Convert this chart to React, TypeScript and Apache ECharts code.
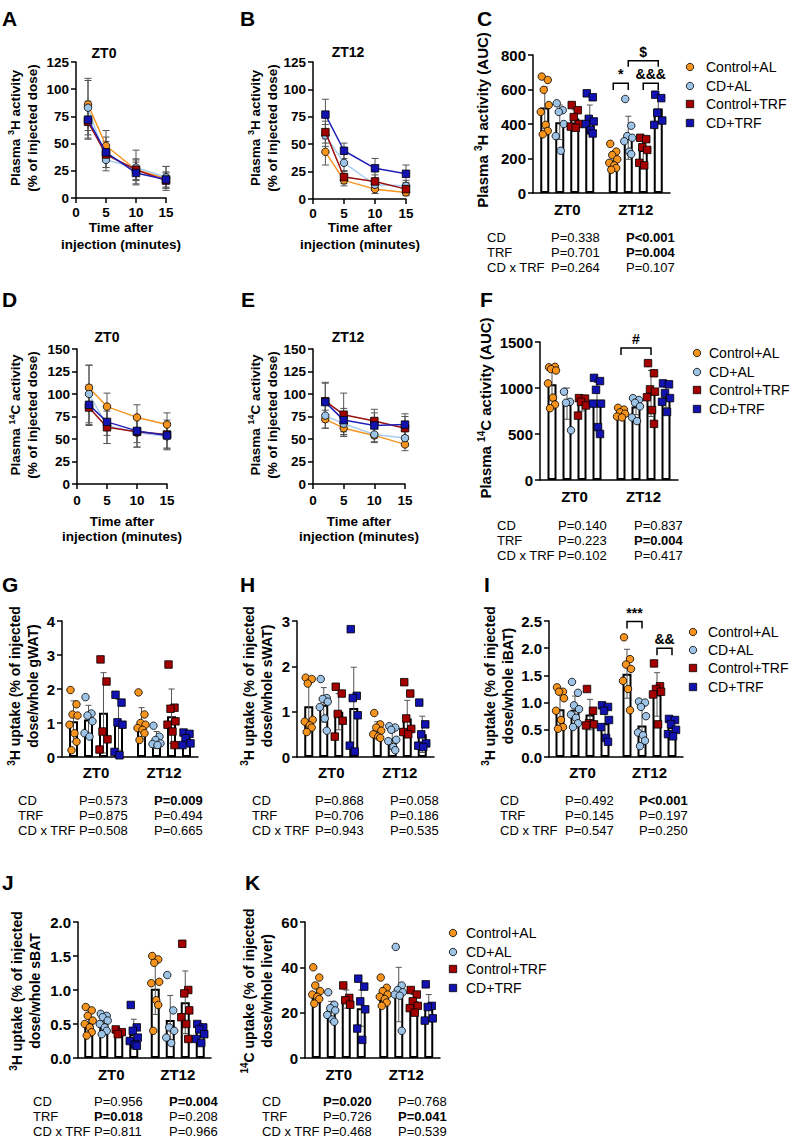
import React, { useEffect, useRef } from "react";
import * as echarts from "echarts";

// ---------- shared categories ----------
const GROUPS = ["Control+AL", "CD+AL", "Control+TRF", "CD+TRF"];
const PHASES = ["ZT0", "ZT12"];
const TIMES = [2, 5, 10, 15];
const P_ROWS = ["CD", "TRF", "CD x TRF"];

// ---------- line panels (mean / SD per group, at TIMES) ----------
const A_MEAN = [[86, 48, 26, 18], [83, 35, 28, 19], [70, 40, 26, 16], [72, 42, 23, 17]];
const A_SD = [[24, 14, 10, 11], [25, 10, 16, 10], [16, 12, 9, 7], [17, 14, 10, 7]];
const B_MEAN = [[43, 17, 9, 6], [58, 33, 13, 12], [61, 20, 16, 9], [77, 44, 28, 23]];
const B_SD = [[12, 5, 4, 3], [10, 8, 5, 5], [10, 6, 6, 5], [14, 7, 9, 8]];
const D_MEAN = [[107, 86, 74, 66], [100, 65, 57, 53], [85, 63, 58, 55], [88, 69, 59, 54]];
const D_SD = [[25, 15, 14, 13], [32, 20, 16, 15], [20, 18, 17, 16], [22, 15, 13, 14]];
const E_MEAN = [[72, 62, 54, 44], [76, 67, 55, 51], [92, 77, 70, 62], [91, 71, 65, 66]];
const E_SD = [[10, 9, 8, 7], [14, 12, 8, 9], [20, 24, 13, 13], [22, 13, 14, 12]];

// ---------- bar panels: per group [ZT0, ZT12] ----------
const C_MEAN = [[495, 190], [410, 320], [432, 250], [425, 490]];
const C_SD = [[120, 50], [100, 125], [50, 70], [85, 75]];
const C_PTS = [
  [[675, 655, 598, 510, 470, 395, 360, 340], [285, 240, 220, 195, 175, 160, 145, 135]],
  [[520, 480, 470, 400, 330, 245], [545, 390, 330, 320, 300, 240, 225]],
  [[510, 480, 440, 400, 385, 378], [320, 312, 265, 250, 175, 160]],
  [[578, 555, 430, 415, 400, 365, 345], [570, 550, 465, 420, 395]],
];
const F_MEAN = [[1040, 720], [830, 800], [830, 940], [830, 900]];
const F_SD = [[180, 40], [170, 90], [80, 250], [230, 110]];
const F_PTS = [
  [[1225, 1230, 1205, 1190, 1050, 895, 820, 780], [785, 765, 735, 720, 690, 680]],
  [[960, 850, 840, 540], [890, 870, 840, 800, 680, 640]],
  [[890, 885, 850, 810, 700], [1270, 1160, 985, 960, 900, 760, 610]],
  [[1110, 1075, 980, 830, 830, 575, 500], [1050, 1040, 945, 890, 850, 740]],
];
const G_MEAN = [[1.05, 1.0], [1.1, 0.5], [1.3, 1.2], [0.95, 0.55]];
const G_SD = [[0.6, 0.45], [0.42, 0.25], [1.18, 0.8], [0.75, 0.17]];
const G_PTS = [
  [[1.97, 1.55, 1.25, 1.22, 0.95, 0.7, 0.45, 0.2], [1.9, 1.25, 1.0, 0.95, 0.85, 0.8, 0.7, 0.5]],
  [[1.76, 1.28, 1.22, 1.05, 0.7, 0.6], [0.92, 0.6, 0.5, 0.4, 0.38, 0.35]],
  [[2.87, 2.22, 0.75, 0.52, 0.22], [2.72, 1.45, 1.42, 1.05, 0.95, 0.75, 0.35]],
  [[1.83, 1.6, 1.02, 0.95, 0.15, 0.05], [0.72, 0.68, 0.55, 0.4, 0.35]],
];
const H_MEAN = [[1.12, 0.6], [1.15, 0.4], [1.0, 0.85], [1.08, 0.5]];
const H_SD = [[0.5, 0.18], [0.38, 0.14], [0.4, 0.4], [0.9, 0.4]];
const H_PTS = [
  [[1.75, 1.72, 1.62, 0.82, 0.78, 0.7, 0.65, 0.55], [0.97, 0.72, 0.65, 0.58, 0.5, 0.45, 0.42]],
  [[1.72, 1.3, 1.28, 1.22, 1.1, 0.85, 0.58], [0.68, 0.65, 0.6, 0.38, 0.35, 0.22, 0.15]],
  [[1.55, 1.4, 0.95, 0.8, 0.45], [1.65, 1.4, 0.85, 0.62, 0.55, 0.5]],
  [[2.82, 1.35, 1.3, 0.92, 0.25, 0.12], [1.2, 0.72, 0.5, 0.3, 0.25, 0.22]],
];
const I_MEAN = [[0.88, 1.53], [0.87, 0.58], [0.78, 1.15], [0.62, 0.55]];
const I_SD = [[0.3, 0.45], [0.25, 0.35], [0.28, 0.4], [0.25, 0.12]];
const I_PTS = [
  [[1.28, 1.2, 1.2, 1.08, 0.85, 0.68, 0.55, 0.52], [2.2, 1.8, 1.7, 1.62, 1.4, 1.25, 0.86]],
  [[1.38, 1.18, 0.95, 0.88, 0.78, 0.72, 0.62, 0.55], [1.02, 1.0, 0.92, 0.75, 0.45, 0.4, 0.3, 0.2]],
  [[1.25, 0.85, 0.62, 0.6, 0.58], [1.72, 1.3, 1.25, 1.2, 1.15, 0.6]],
  [[0.95, 0.92, 0.85, 0.68, 0.55, 0.35, 0.28], [0.7, 0.68, 0.6, 0.5, 0.42, 0.38]],
];
const J_MEAN = [[0.52, 1.02], [0.52, 0.56], [0.4, 0.82], [0.35, 0.4]];
const J_SD = [[0.15, 0.38], [0.1, 0.36], [0.03, 0.46], [0.22, 0.1]];
const J_PTS = [
  [[0.75, 0.7, 0.62, 0.55, 0.5, 0.45, 0.38, 0.33], [1.5, 1.45, 1.4, 1.12, 1.1, 0.85, 0.78, 0.4]],
  [[0.65, 0.62, 0.6, 0.55, 0.5, 0.45, 0.4, 0.35], [1.22, 0.7, 0.45, 0.4, 0.3, 0.22]],
  [[0.42, 0.38, 0.35], [1.68, 1.0, 0.95, 0.7, 0.6, 0.5, 0.28]],
  [[0.78, 0.45, 0.4, 0.3, 0.25, 0.2, 0.18], [0.5, 0.45, 0.42, 0.35, 0.28, 0.22]],
];
const K_MEAN = [[29, 28], [21, 28], [26, 25], [22, 23]];
const K_SD = [[4, 3], [4, 12], [4, 3], [8, 5]];
const K_PTS = [
  [[40, 35.5, 32, 29.5, 28, 27, 26, 24], [35.5, 31, 29.5, 28, 27, 26, 24.5, 23]],
  [[29, 23.5, 22, 21, 19, 17, 16], [49, 32, 30, 29, 28, 27.5, 12]],
  [[32, 26.5, 25.5, 23.5], [30, 28, 25, 23, 22, 20]],
  [[35, 31.5, 25, 21.5, 13, 8], [32.5, 23, 22.5, 17.5, 16.5]],
];

// brackets: [phase, fromGroup, toGroup, topValue, legValue, label]
const C_BRACKETS = [[1, 0, 1, 636, 597, "*"], [1, 2, 3, 636, 597, "&&&"], [1, 1, 3, 767, 732, "$"]];
const F_BRACKETS = [[1, 0, 2, 1435, 1359, "#"]];
const I_BRACKETS = [[1, 0, 1, 2.49, 2.36, "***"], [1, 2, 3, 2.0, 1.87, "&&"]];

// p-value tables: rows CD / TRF / CD x TRF, columns ZT0 / ZT12
const C_P = [["P=0.338", "P<0.001"], ["P=0.701", "P=0.004"], ["P=0.264", "P=0.107"]];
const C_PB = [[0, 1], [0, 1], [0, 0]];
const F_P = [["P=0.140", "P=0.837"], ["P=0.223", "P=0.004"], ["P=0.102", "P=0.417"]];
const F_PB = [[0, 0], [0, 1], [0, 0]];
const G_P = [["P=0.573", "P=0.009"], ["P=0.875", "P=0.494"], ["P=0.508", "P=0.665"]];
const G_PB = [[0, 1], [0, 0], [0, 0]];
const H_P = [["P=0.868", "P=0.058"], ["P=0.706", "P=0.186"], ["P=0.943", "P=0.535"]];
const H_PB = [[0, 0], [0, 0], [0, 0]];
const I_P = [["P=0.492", "P<0.001"], ["P=0.145", "P=0.197"], ["P=0.547", "P=0.250"]];
const I_PB = [[0, 1], [0, 0], [0, 0]];
const J_P = [["P=0.956", "P=0.004"], ["P=0.018", "P=0.208"], ["P=0.811", "P=0.966"]];
const J_PB = [[0, 1], [1, 0], [0, 0]];
const K_P = [["P=0.020", "P=0.768"], ["P=0.726", "P=0.041"], ["P=0.468", "P=0.539"]];
const K_PB = [[1, 0], [0, 1], [0, 0]];

// ---------- styles ----------
const FONT = "'Liberation Sans', Arial, Helvetica, sans-serif";
const COLORS = ["#F7941D", "#9DC3E6", "#A50000", "#1212B0"];
const LINE_COLORS = ["#F7941D", "#A9CDEE", "#9B1010", "#1F1FB8"];
const SYMBOLS = ["circle", "circle", "rect", "rect"];
const BAR_W = 9;
const BAR_STEP = 15;
const JITTER = [-3, 3, -1, 4, -4, 1, 3, -2];
const SUP = { s: { fontSize: 9, fontWeight: "bold", fontFamily: FONT, verticalAlign: "top", lineHeight: 8, fill: "#000" } };
const SUP_L = { s: { fontSize: 10, fontWeight: "bold", fontFamily: FONT, verticalAlign: "top", lineHeight: 9, fill: "#000" } };

function txt(x: number, y: number, text: string, o: any = {}) {
  return {
    type: "text",
    x,
    y,
    silent: true,
    rotation: o.rotation || 0,
    style: {
      text,
      fill: "#000",
      fontFamily: FONT,
      fontSize: o.size || 13,
      fontWeight: o.bold ? "bold" : "normal",
      align: o.align || "left",
      textAlign: o.align || "left",
      verticalAlign: o.va || "middle",
      textVerticalAlign: o.va || "middle",
      lineHeight: o.lh || Math.round((o.size || 13) * 1.25),
      rich: o.rich,
    },
  };
}

function axisStyle(size: number, margin: number) {
  return {
    axisLine: { show: true, onZero: false, lineStyle: { color: "#000", width: 1.5 } },
    axisTick: { show: true, length: 5, lineStyle: { color: "#000", width: 1.5 } },
    axisLabel: { show: true, color: "#000", fontFamily: FONT, fontWeight: "bold", fontSize: size, margin },
    splitLine: { show: false },
  };
}

function buildOption() {
  const grid: any[] = [];
  const xAxis: any[] = [];
  const yAxis: any[] = [];
  const series: any[] = [];
  const graphic: any[] = [];

  const addLine = (L: any, means: number[][], sds: number[][]) => {
    const gi = grid.length;
    grid.push({ left: L.left, top: L.top, width: L.width, height: L.height });
    const xi = xAxis.length;
    xAxis.push({ type: "value", gridIndex: gi, min: 0, max: 15, interval: 5, ...axisStyle(13.5, L.xMargin) });
    const yi = yAxis.length;
    yAxis.push({ type: "value", gridIndex: gi, min: 0, max: L.yMax, interval: 25, ...axisStyle(13.5, 7) });
    const err: number[][] = [];
    means.forEach((row, k) => row.forEach((m, i) => err.push([TIMES[i], m, sds[k][i]])));
    series.push({
      type: "custom",
      xAxisIndex: xi,
      yAxisIndex: yi,
      z: 2,
      silent: true,
      data: err,
      renderItem: (_p: any, api: any) => {
        const x = api.value(0), m = api.value(1), s = api.value(2);
        const t = api.coord([x, m + s]);
        const b = api.coord([x, m - s]);
        const st = { stroke: "#555", lineWidth: 1 };
        return {
          type: "group",
          children: [
            { type: "line", shape: { x1: t[0], y1: t[1], x2: b[0], y2: b[1] }, style: st },
            { type: "line", shape: { x1: t[0] - 3.5, y1: t[1], x2: t[0] + 3.5, y2: t[1] }, style: st },
            { type: "line", shape: { x1: b[0] - 3.5, y1: b[1], x2: b[0] + 3.5, y2: b[1] }, style: st },
          ],
        };
      },
    });
    GROUPS.forEach((g, k) => {
      series.push({
        type: "line",
        name: g,
        xAxisIndex: xi,
        yAxisIndex: yi,
        z: 3 + k * 0.1,
        data: TIMES.map((t, i) => [t, means[k][i]]),
        symbol: SYMBOLS[k],
        symbolSize: 7.5,
        showAllSymbol: true,
        lineStyle: { color: LINE_COLORS[k], width: 1.5 },
        itemStyle: { color: COLORS[k], borderColor: "#000", borderWidth: 0.8 },
      });
    });
    graphic.push(txt(L.title[0], L.title[1], L.title[2], { bold: true, align: "center", size: 14 }));
    graphic.push(txt(L.yName[0], L.yName[1], L.yNameText, { bold: true, align: "center", rotation: Math.PI / 2, lh: 17, size: 13.5, rich: SUP }));
    graphic.push(txt(L.xName[0], L.xName[1], "Time after\ninjection (minutes)", { bold: true, align: "center", lh: L.xName[2], size: 13.5 }));
    graphic.push(txt(L.letter[0], L.letter[1], L.letter[2], { bold: true, size: 21, va: "top" }));
  };

  const addBar = (L: any, means: number[][], sds: number[][], pts: number[][][], P: string[][], PB: number[][], brackets: any[] | null) => {
    const gi = grid.length;
    grid.push({ left: L.left, top: L.top, width: L.width, height: L.height });
    const xi = xAxis.length;
    const xs = axisStyle(15, L.catMargin);
    xAxis.push({ type: "category", gridIndex: gi, data: PHASES, ...xs, axisTick: { show: false } });
    const yi = yAxis.length;
    const ys = axisStyle(15, 7);
    yAxis.push({
      type: "value",
      gridIndex: gi,
      min: 0,
      max: L.yMax,
      interval: L.yInt,
      ...ys,
      axisLabel: { ...ys.axisLabel, formatter: (v: number) => v.toFixed(L.dec) },
    });
    GROUPS.forEach((g, k) => {
      series.push({
        type: "bar",
        name: g,
        xAxisIndex: xi,
        yAxisIndex: yi,
        z: 2,
        silent: true,
        barWidth: BAR_W,
        barGap: ((BAR_STEP - BAR_W) / BAR_W) * 100 + "%",
        data: means[k],
        itemStyle: { color: "#fff", borderColor: "#000", borderWidth: 2 },
      });
    });
    const err: number[][] = [];
    means.forEach((row, k) => row.forEach((m, p) => err.push([p, m, sds[k][p], k])));
    series.push({
      type: "custom",
      xAxisIndex: xi,
      yAxisIndex: yi,
      z: 3,
      silent: true,
      data: err,
      renderItem: (_p: any, api: any) => {
        const p = api.value(0), m = api.value(1), s = api.value(2), k = api.value(3);
        const off = (k - 1.5) * BAR_STEP;
        const t = api.coord([p, m + s]);
        const b = api.coord([p, Math.max(0, m - s)]);
        const x = t[0] + off;
        const st = { stroke: "#555", lineWidth: 1 };
        return {
          type: "group",
          children: [
            { type: "line", shape: { x1: x, y1: t[1], x2: x, y2: b[1] }, style: st },
            { type: "line", shape: { x1: x - 3, y1: t[1], x2: x + 3, y2: t[1] }, style: st },
            { type: "line", shape: { x1: x - 3, y1: b[1], x2: x + 3, y2: b[1] }, style: st },
          ],
        };
      },
    });
    GROUPS.forEach((g, k) => {
      const data: any[] = [];
      pts[k].forEach((arr, p) =>
        arr.forEach((v, i) => data.push({ value: [p, v], symbolOffset: [(k - 1.5) * BAR_STEP + JITTER[i % JITTER.length], 0] }))
      );
      series.push({
        type: "scatter",
        name: g,
        xAxisIndex: xi,
        yAxisIndex: yi,
        z: 4,
        silent: true,
        symbol: SYMBOLS[k],
        symbolSize: 7.5,
        itemStyle: { color: COLORS[k], borderColor: "#000", borderWidth: 0.8, opacity: 1 },
        data,
      });
    });
    if (brackets) {
      series.push({
        type: "custom",
        xAxisIndex: xi,
        yAxisIndex: yi,
        z: 5,
        silent: true,
        data: brackets.map((b) => [b[0], b[3], b[4]]),
        renderItem: (params: any, api: any) => {
          const b = brackets[params.dataIndex];
          const top = api.coord([api.value(0), api.value(1)]);
          const leg = api.coord([api.value(0), api.value(2)]);
          const x1 = top[0] + (b[1] - 1.5) * BAR_STEP;
          const x2 = top[0] + (b[2] - 1.5) * BAR_STEP;
          return {
            type: "group",
            children: [
              {
                type: "polyline",
                shape: { points: [[x1, leg[1]], [x1, top[1]], [x2, top[1]], [x2, leg[1]]] },
                style: { stroke: "#000", lineWidth: 1.5, fill: "none" },
              },
              {
                type: "text",
                x: (x1 + x2) / 2,
                y: top[1] - 2,
                style: {
                  text: b[5],
                  fill: "#000",
                  fontFamily: FONT,
                  fontSize: 14,
                  fontWeight: "bold",
                  align: "center",
                  verticalAlign: "bottom",
                },
              },
            ],
          };
        },
      });
    }
    // y name
    graphic.push(txt(L.yName[0], L.yName[1], L.yNameText, { bold: true, align: "center", rotation: Math.PI / 2, lh: 18, size: L.nameSize, rich: SUP_L }));
    // p table
    P_ROWS.forEach((r, i) => {
      graphic.push(txt(L.table.x[0], L.table.y[i], r, {}));
      graphic.push(txt(L.table.x[1], L.table.y[i], P[i][0], { bold: !!PB[i][0] }));
      graphic.push(txt(L.table.x[2], L.table.y[i], P[i][1], { bold: !!PB[i][1] }));
    });
    // legend
    if (L.legend) {
      GROUPS.forEach((g, k) => {
        const cy = L.legend.y[k];
        const mx = L.legend.mx;
        if (SYMBOLS[k] === "circle") {
          graphic.push({ type: "circle", silent: true, shape: { cx: mx, cy, r: 3.7 }, style: { fill: COLORS[k], stroke: "#000", lineWidth: 0.8 } });
        } else {
          graphic.push({ type: "rect", silent: true, shape: { x: mx - 3.7, y: cy - 3.7, width: 7.4, height: 7.4 }, style: { fill: COLORS[k], stroke: "#000", lineWidth: 0.8 } });
        }
        graphic.push(txt(L.legend.tx, cy, g, { size: 14 }));
      });
    }
    graphic.push(txt(L.letter[0], L.letter[1], L.letter[2], { bold: true, size: 21, va: "top" }));
  };

  addLine({ left: 76, top: 62, width: 90, height: 136, yMax: 125, xMargin: 7, title: [104, 53, "ZT0"], yName: [23.5, 128], yNameText: "Plasma {s|3}H activity\n(% of injected dose)", xName: [121, 236, 17], letter: [2, 5, "A"] }, A_MEAN, A_SD);
  addLine({ left: 313, top: 62, width: 93, height: 137, yMax: 125, xMargin: 7, title: [348, 52, "ZT12"], yName: [263.5, 128], yNameText: "Plasma {s|3}H activity\n(% of injected dose)", xName: [360, 236, 17], letter: [240, 5, "B"] }, B_MEAN, B_SD);
  addLine({ left: 77, top: 349, width: 90, height: 135, yMax: 150, xMargin: 9, title: [107, 337, "ZT0"], yName: [24, 415], yNameText: "Plasma {s|14}C activity\n(% of injected dose)", xName: [122, 529, 15], letter: [2, 286, "D"] }, D_MEAN, D_SD);
  addLine({ left: 313, top: 349, width: 92, height: 135, yMax: 150, xMargin: 9, title: [348, 337, "ZT12"], yName: [263.5, 415], yNameText: "Plasma {s|14}C activity\n(% of injected dose)", xName: [359, 529, 15], letter: [241, 286, "E"] }, E_MEAN, E_SD);

  addBar({ left: 533, top: 55, width: 137, height: 138, yMax: 800, yInt: 200, dec: 0, catMargin: 9, nameSize: 15, yName: [482, 120], yNameText: "Plasma {s|3}H activity (AUC)", table: { x: [487, 551, 626], y: [237, 252, 267] }, legend: { mx: 690, tx: 706, y: [67, 86, 104, 123] }, letter: [477, 5, "C"] }, C_MEAN, C_SD, C_PTS, C_P, C_PB, C_BRACKETS);
  addBar({ left: 540, top: 342, width: 138, height: 138, yMax: 1500, yInt: 500, dec: 0, catMargin: 9, nameSize: 15, yName: [485, 408], yNameText: "Plasma {s|14}C activity (AUC)", table: { x: [497, 558, 634], y: [525, 540, 555] }, legend: { mx: 697, tx: 709, y: [353, 372, 390, 409] }, letter: [480, 286, "F"] }, F_MEAN, F_SD, F_PTS, F_P, F_PB, F_BRACKETS);
  addBar({ left: 62, top: 621, width: 136, height: 136, yMax: 4, yInt: 1, dec: 0, catMargin: 8, nameSize: 14, yName: [24, 686], yNameText: "{s|3}H uptake (% of injected\ndose/whole gWAT)", table: { x: [18, 79, 154], y: [800, 815, 830] }, legend: null, letter: [2, 571, "G"] }, G_MEAN, G_SD, G_PTS, G_P, G_PB, null);
  addBar({ left: 297, top: 621, width: 137, height: 136, yMax: 3, yInt: 1, dec: 0, catMargin: 8, nameSize: 14, yName: [257.5, 686], yNameText: "{s|3}H uptake (% of injected\ndose/whole sWAT)", table: { x: [252, 315, 390], y: [800, 815, 830] }, legend: null, letter: [240, 571, "H"] }, H_MEAN, H_SD, H_PTS, H_P, H_PB, null);
  addBar({ left: 549, top: 621, width: 134, height: 136, yMax: 2.5, yInt: 0.5, dec: 1, catMargin: 8, nameSize: 14, yName: [498.5, 686], yNameText: "{s|3}H uptake (% of injected\ndose/whole iBAT)", table: { x: [500, 565, 639], y: [800, 815, 830] }, legend: { mx: 693, tx: 708, y: [632, 650, 668, 687] }, letter: [484, 571, "I"] }, I_MEAN, I_SD, I_PTS, I_P, I_PB, I_BRACKETS);
  addBar({ left: 78, top: 922, width: 133, height: 136, yMax: 2, yInt: 0.5, dec: 1, catMargin: 9, nameSize: 14, yName: [26, 991], yNameText: "{s|3}H uptake (% of injected\ndose/whole sBAT", table: { x: [33, 94, 169], y: [1101, 1116, 1131] }, legend: null, letter: [2, 869, "J"] }, J_MEAN, J_SD, J_PTS, J_P, J_PB, null);
  addBar({ left: 305, top: 922, width: 135, height: 136, yMax: 60, yInt: 20, dec: 0, catMargin: 9, nameSize: 14, yName: [257.5, 991], yNameText: "{s|14}C uptake (% of injected\ndose/whole liver)", table: { x: [262, 323, 398], y: [1101, 1116, 1131] }, legend: { mx: 453, tx: 466, y: [933, 952, 969, 988] }, letter: [245, 869, "K"] }, K_MEAN, K_SD, K_PTS, K_P, K_PB, null);

  return {
    animation: false,
    backgroundColor: "#fff",
    textStyle: { fontFamily: FONT },
    grid,
    xAxis,
    yAxis,
    series,
    graphic: { elements: graphic },
  };
}

export default function App() {
  const ref = useRef<HTMLDivElement>(null);
  useEffect(() => {
    const chart = echarts.init(ref.current as HTMLDivElement, null, { renderer: "svg" });
    chart.setOption(buildOption() as any);
    return () => chart.dispose();
  }, []);
  return (
    <div
      ref={ref}
      style={{ position: "absolute", left: 0, top: 0, width: 796, height: 1138, background: "#fff" }}
    />
  );
}
